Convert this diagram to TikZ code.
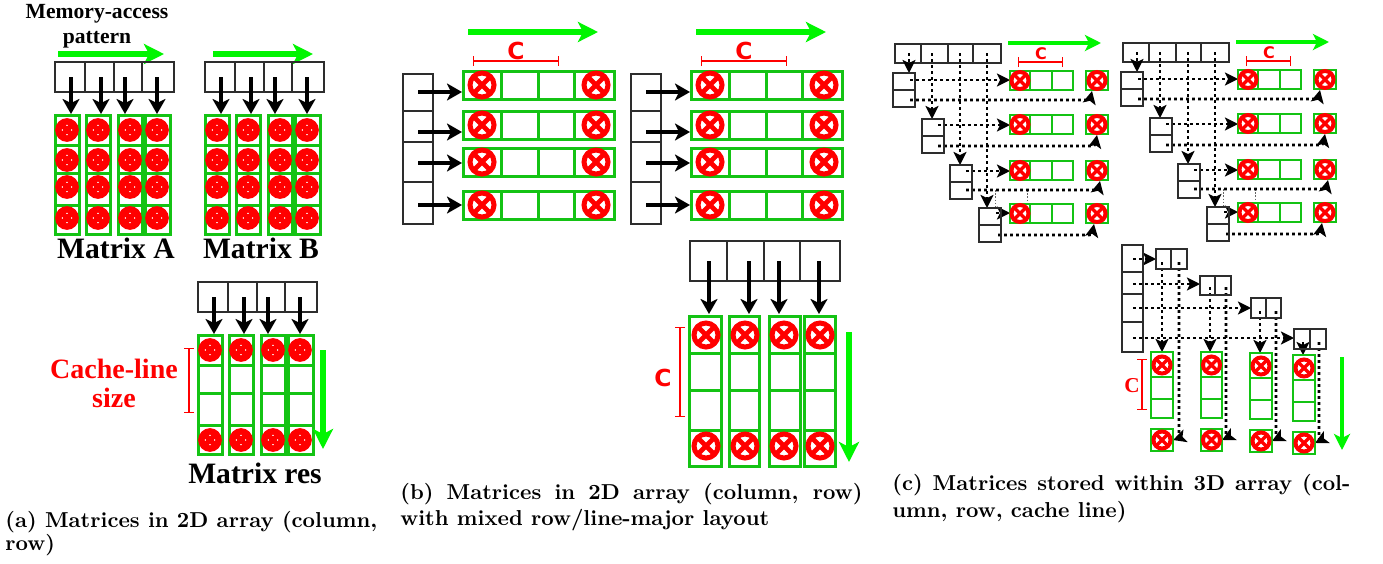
\documentclass[tikz,border=0pt]{standalone}
\usepackage{fontspec}
\usetikzlibrary{arrows.meta}
\newfontfamily\timesf{Liberation Serif}
\newfontfamily\dejaf{DejaVu Sans}
\definecolor{cellgreen}{RGB}{20,195,20}
\definecolor{limeg}{RGB}{0,245,0}
\definecolor{boxgray}{RGB}{45,45,45}
\definecolor{redc}{RGB}{255,0,0}

% circled cross: x, y, stroke radius (px), ring width, cross width
\newcommand\ox[5]{%
  \draw[redc,line width=#4,fill=white] ({#1},{#2}) circle (#3);
  \draw[redc,line width=#5] ({#1},{#2}) +({-0.7*#3},{-0.7*#3}) -- +({0.7*#3},{0.7*#3})
        +({-0.7*#3},{0.7*#3}) -- +({0.7*#3},{-0.7*#3});}

% (a) column-major matrix: #1 = circle rows
\newcommand\colmatrix[1]{%
  \foreach \a/\b in {55/85,85/114,114/142,142/174} \draw[bbox] (\a,62) rectangle (\b,92);
  \foreach \a/\b in {55/79,86/110,118/142,145/170} {%
    \draw[gcell] (\a,115) rectangle (\b,234);
    \foreach \yy in {145,173,205} \draw[gcell] (\a,\yy) -- (\b,\yy);}
  \foreach \xx in {71,101,125,157} \draw[barrow] (\xx,77) -- (\xx,114);
  \foreach \xx in {67,98,130,157} {\foreach \yy in {#1} {\ox{\xx}{\yy}{8.6}{3.2pt}{2.6pt}}}
}

% (b) row matrix with index column
\newcommand\rowmatrix{%
  \draw[bbox] (403,74) rectangle (433,224);
  \foreach \yy in {111,142,182} \draw[bbox] (403,\yy) -- (433,\yy);
  \foreach \ya/\yb in {71/99,111/139,148/176,191/219} {%
    \draw[gcell] (463,\ya) rectangle (614,\yb);
    \foreach \xx in {501,538,574} \draw[gcell] (\xx,\ya) -- (\xx,\yb);}
  \foreach \yy in {92,132,163,205} \draw[barrow] (418,\yy) -- (462,\yy);
  \foreach \yy in {85,125,162,205} {\ox{482}{\yy}{12}{2.5pt}{2.4pt}\ox{596}{\yy}{12}{2.5pt}{2.4pt}}
  \draw[garrow] (468,32) -- (598,32);
  \draw[dimline] (473,61) -- (559,61);
  \node[csans,anchor=base] at (516,59) {C};
}

% (c) upper block
\newcommand\cblock{%
  \foreach \a/\b in {895/921,921/948,948/973,973/1001} \draw[bbox] (\a,44) rectangle (\b,63);
  \draw[garrows] (1008,43) -- (1101,43);
  \draw[dimline] (1018,62) -- (1063,62);
  \node[csmall,anchor=base] at (1041,59) {C};
  \draw[thind] (995,190) -- (995,207);
  \draw[thind] (1027,190) -- (1027,204);
  \foreach \xx/\yy in {909/73,932/119,960/165,987/208} \draw[darrow] (\xx,53) -- (\xx,\yy);
  \draw[darrow] (910,80) -- (1010,80);
  \draw[darrow] (938,125) -- (1010,125);
  \draw[darrow] (966,171) -- (1010,171);
  \draw[darrow] (996,213) -- (1010,213);
  \draw[darrow] (910,100) -- (1080,100) .. controls (1090,100) .. (1092,91);
  \draw[darrow] (938,146) -- (1085,146) .. controls (1095,146) .. (1097,135);
  \draw[darrow] (966,190) -- (1088,190) .. controls (1098,190) .. (1100,181);
  \draw[darrow] (998,235) -- (1082,235) .. controls (1092,235) .. (1094,224);
  \foreach \xa/\ya in {893/73,922/119,950/165,979/208} {%
    \draw[bbox] (\xa,\ya) rectangle ++(22,34);
    \draw[bbox] (\xa,\ya) ++(0,17) -- ++(22,0);}
  \foreach \ya in {71,115,161,204} {%
    \draw[gcellc] (1010,\ya) rectangle ++(63,19);
    \draw[gcellc] (1030,\ya) -- ++(0,19);
    \draw[gcellc] (1052,\ya) -- ++(0,19);
    \draw[gcellc] (1086,\ya) rectangle ++(22,19);
    \ox{1020}{\ya+9.5}{8.5}{2pt}{1.7pt}\ox{1097}{\ya+9.5}{8.5}{2pt}{1.7pt}}
}

\begin{document}
\begin{tikzpicture}[x=0.5pt,y=-0.5pt,
  bbox/.style={draw=boxgray,line width=0.65pt},
  gcell/.style={draw=cellgreen,line width=1.5pt},
  gcellc/.style={draw=cellgreen,line width=1.2pt},
  garrow/.style={draw=limeg,line width=2.6pt,-{Stealth[length=10pt,width=10pt,inset=2.5pt]}},
  garrows/.style={draw=limeg,line width=2.1pt,-{Stealth[length=8pt,width=8pt,inset=2pt]}},
  barrow/.style={draw=black,line width=2pt,-{Stealth[length=7.5pt,width=8.5pt,inset=2pt]}},
  darrow/.style={draw=black,line width=1.4pt,dash pattern=on 1.4pt off 1.6pt,-{Stealth[length=6.5pt,width=6.5pt,inset=1.5pt]}},
  dimline/.style={draw=redc,line width=0.6pt,{Bar[width=5pt]}-{Bar[width=5pt]}},
  thind/.style={draw=black!60,line width=0.35pt,dash pattern=on 0.8pt off 0.8pt},
  ttllbl/.style={inner sep=0pt,anchor=base,font={\fontsize{10.8pt}{13pt}\selectfont\timesf\bfseries}},
  matlbl/.style={inner sep=0pt,anchor=base,font={\fontsize{14.8pt}{17pt}\selectfont\timesf\bfseries}},
  cachelbl/.style={inner sep=0pt,anchor=base,text=redc,font={\fontsize{14pt}{17pt}\selectfont\timesf\bfseries}},
  csans/.style={inner sep=0pt,text=redc,font={\fontsize{11.7pt}{14pt}\selectfont\dejaf\bfseries}},
  csmall/.style={inner sep=0pt,text=redc,font={\fontsize{8pt}{10pt}\selectfont\dejaf\bfseries}},
  cserif/.style={inner sep=0pt,anchor=base,text=redc,font={\fontsize{10.6pt}{13pt}\selectfont\timesf\bfseries}},
  captxt/.style={inner sep=0pt,anchor=base west,font={\fontsize{10.8pt}{13pt}\selectfont\bfseries}}
]
\fill[white] (0,0) rectangle (1383,563);
\useasboundingbox (0,0) rectangle (1383,563);

% ---------- (a) ----------
\node[ttllbl] (memtxt) at (97,18) {Memory-access};
\node[ttllbl] (pattxt) at (97,43) {pattern};
\draw[garrow] (58,54) -- (164,54);
\draw[garrow] (213,54) -- (313,54);
\colmatrix{130,160,187,218}
\begin{scope}[shift={(150,0)}]
  \colmatrix{130,160,187,218}
\end{scope}
\begin{scope}[shift={(143,220)}]
  \colmatrix{130,220}
\end{scope}
\node[matlbl] (matA) at (116,258) {Matrix A};
\node[matlbl] (matB) at (261,258) {Matrix B};
\node[matlbl] (matR) at (255,483) {Matrix res};
\node[cachelbl] (cl1) at (114,378) {Cache-line};
\node[cachelbl] (cl2) at (114,407) {size};
\draw[dimline] (189,348) -- (189,413);
\draw[garrow] (323,350) -- (323,449);
\node[captxt] (capa1) at (5,527) {(a) Matrices in 2D array (column,};
\node[captxt] (capa2) at (5,550) {row)};

% ---------- (b) ----------
\rowmatrix
\begin{scope}[shift={(228,0)}]
  \rowmatrix
\end{scope}
\foreach \a/\b in {690/727,727/764,764/800,800/840} \draw[bbox] (\a,241) rectangle (\b,281);
\foreach \a/\b in {689/721,729/759,769/800,804/835} {%
  \draw[gcell] (\a,316) rectangle (\b,466);
  \foreach \yy in {353,390,430} \draw[gcell] (\a,\yy) -- (\b,\yy);}
\foreach \xx in {709,749,779,819} \draw[barrow] (\xx,261) -- (\xx,314);
\foreach \xx in {706,745,784,820} {\ox{\xx}{335}{12}{2.5pt}{2.4pt}\ox{\xx}{446}{12}{2.5pt}{2.4pt}}
\draw[dimline] (680,327) -- (680,417);
\node[csans,anchor=base] (cb) at (663,386) {C};
\draw[garrow] (849,332) -- (849,462);
\node[captxt] (capb1) at (400,499) {\makebox[231pt][s]{(b) Matrices in 2D array (column, row)}};
\node[captxt] (capb2) at (400,525) {with mixed row/line-major layout};

% ---------- (c) ----------
\cblock
\begin{scope}[shift={(228,-1)}]
  \cblock
\end{scope}
% lower part
\draw[darrow] (1133,259) -- (1156,259);
\draw[darrow] (1133,284) -- (1200,284);
\draw[darrow] (1133,308) -- (1251,308);
\draw[darrow] (1133,338) -- (1294,338);
\draw[darrow] (1162,262) -- (1162,352);
\draw[darrow] (1210,287) -- (1210,352);
\draw[darrow] (1260,311) -- (1260,353);
\draw[darrow] (1303,342) -- (1303,355);
\draw[darrow] (1179,262) -- (1179,430) .. controls (1179,438) .. (1173,440);
\draw[darrow] (1226,287) -- (1226,430) .. controls (1226,438) .. (1222,440);
\draw[darrow] (1276,311) -- (1276,431) .. controls (1276,439) .. (1272,441);
\draw[darrow] (1319,342) -- (1319,433) .. controls (1319,441) .. (1315,443);
\draw[bbox] (1122,245) rectangle (1143,352);
\foreach \yy in {272,294,322} \draw[bbox] (1122,\yy) -- (1143,\yy);
\foreach \xa/\xm/\xb/\ya/\yb in {1156/1171/1187/249/269,1200/1215/1231/276/295,1251/1266/1281/298/318,1294/1310/1326/329/349} {%
  \draw[bbox] (\xa,\ya) rectangle (\xb,\yb);
  \draw[bbox] (\xm,\ya) -- (\xm,\yb);}
\foreach \xa/\xb/\ya/\sa in {1151/1173/352/429,1201/1222/352/429,1250/1272/353/430,1293/1315/355/432} {%
  \draw[gcellc] (\xa,\ya) rectangle (\xb,\ya+66);
  \draw[gcellc] (\xa,\ya+25) -- (\xb,\ya+25);
  \draw[gcellc] (\xa,\ya+47) -- (\xb,\ya+47);
  \draw[gcellc] (\xa,\sa) rectangle (\xb,\sa+22);
  \ox{(\xa+\xb)/2}{\ya+13}{8.5}{2pt}{1.7pt}
  \ox{(\xa+\xb)/2}{\sa+11}{8.5}{2pt}{1.7pt}}
\draw[dimline] (1142,359) -- (1142,410);
\node[cserif] (cc) at (1132,392) {C};
\draw[garrows] (1342,357) -- (1342,450);
\node[captxt] (capc1) at (892,490) {\makebox[229pt][s]{(c) Matrices stored within 3D array (col-}};
\node[captxt] (capc2) at (892,517) {umn, row, cache line)};
\end{tikzpicture}
\end{document}
